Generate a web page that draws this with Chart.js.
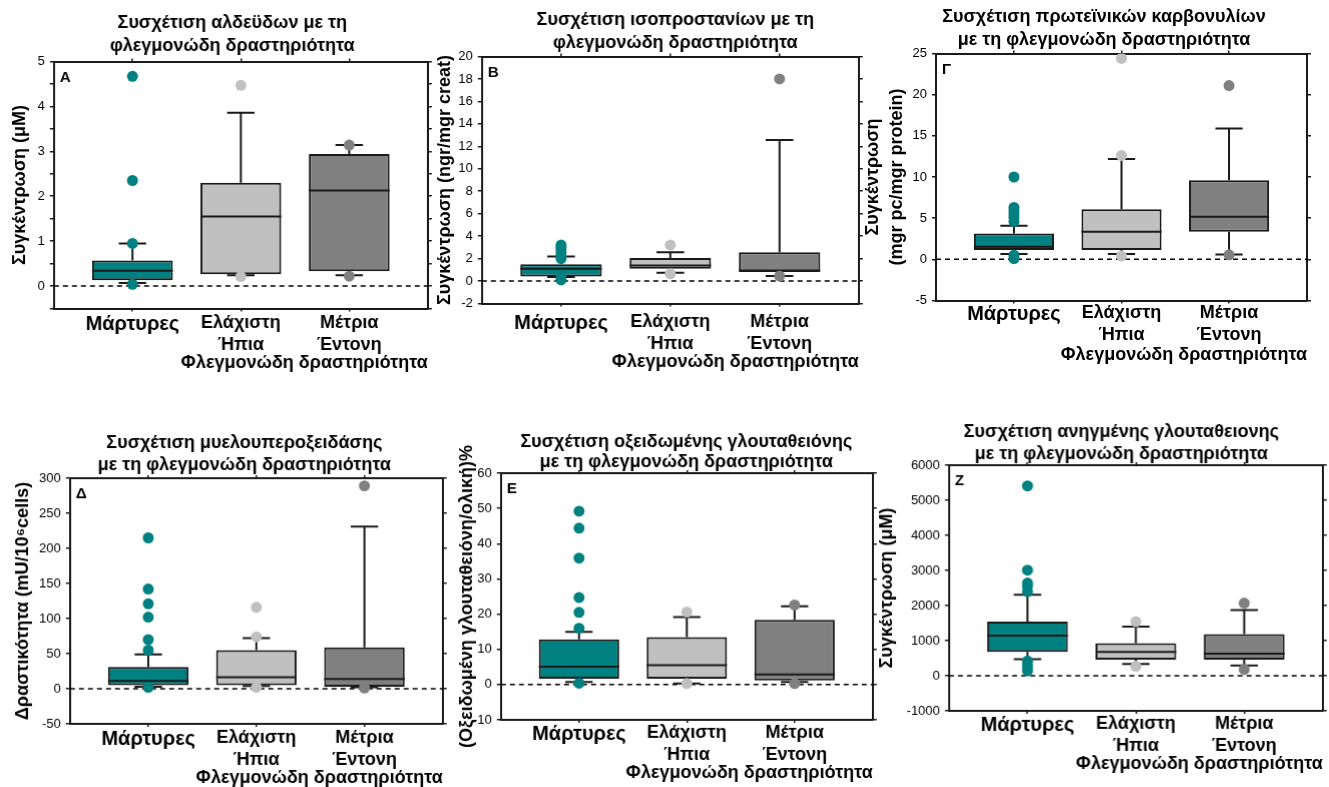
<!DOCTYPE html>
<html>
<head>
<meta charset="utf-8">
<script src="https://cdn.jsdelivr.net/npm/chart.js@4.4.1/dist/chart.umd.min.js"></script>
<style>
  html, body { margin: 0; padding: 0; background: #fff; }
  body { width: 1329px; height: 787px; position: relative; overflow: hidden; }
  .panel { position: absolute; }
</style>
</head>
<body>
<script>
// κατηγορίες (ομάδες ασθενών)
const categories = ["Μάρτυρες", "Ελάχιστη", "Μέτρια"];
const categorySubLabels = ["", "Ήπια", "Έντονη"];
const groupColors = ["#008080", "#c0c0c0", "#808080"];

// A - αλδεΰδες (μM)
const aldQ1 = [0.13, 0.26, 0.33];
const aldMedian = [0.34, 1.55, 2.13];
const aldQ3 = [0.57, 2.30, 2.94];
const aldLow = [0.07, 0.24, 0.24];
const aldHigh = [0.95, 3.86, 3.14];
const aldOutliers = [[4.67, 2.35, 0.95, 0.04], [4.47, 0.21], [3.14, 0.22]];
const aldAxis = [-0.5, 5, 0.5, 1, 0.5]; // min, max, βήμα, βήμα ετικετών, βήμα δεξιού άξονα

// B - ισοπροστάνια (ngr/mgr creat)
const isoQ1 = [0.41, 1.09, 0.80];
const isoMedian = [1.09, 1.38, 0.94];
const isoQ3 = [1.50, 2.06, 2.56];
const isoLow = [0.35, 0.73, 0.45];
const isoHigh = [2.18, 2.56, 12.56];
const isoOutliers = [[3.2, 3.0, 2.8, 2.5, 2.2, 2.0, 0.3, 0.1], [3.2, 0.65], [18.0, 0.45]];
const isoAxis = [-2, 20, 2, 2, 2];

// Γ - πρωτεϊνικά καρβονύλια (mgr pc/mgr protein)
const carbQ1 = [1.13, 1.13, 3.35];
const carbMedian = [1.53, 3.35, 5.16];
const carbQ3 = [3.15, 6.09, 9.6];
const carbLow = [0.65, 0.65, 0.6];
const carbHigh = [4.07, 12.2, 15.9];
const carbOutliers = [[10.0, 6.3, 5.9, 5.5, 5.1, 4.6, 0.5, 0.1], [24.4, 12.6, 0.4], [21.1, 0.55]];
const carbAxis = [-5, 25, 5, 5, 5];

// Δ - μυελοϋπεροξειδάση (mU/10^6 cells)
const mpoQ1 = [5, 5, 3];
const mpoMedian = [11, 16.5, 14];
const mpoQ3 = [31, 55, 59];
const mpoLow = [3, 4, 2];
const mpoHigh = [49, 72, 231];
const mpoOutliers = [[215, 142, 121, 102, 70, 55, 2], [116, 74, 2], [289, 1]];
const mpoAxis = [-50, 300, 50, 50, 50];

// Ε - οξειδωμένη γλουταθειόνη (%)
const gssgQ1 = [1.7, 1.7, 1.2];
const gssgMedian = [5.1, 5.5, 2.9];
const gssgQ3 = [12.8, 13.5, 18.4];
const gssgLow = [0.75, 0.3, 0.75];
const gssgHigh = [15.0, 19.2, 22.2];
const gssgOutliers = [[49.2, 44.4, 35.9, 24.7, 20.5, 16.0, 0.4], [20.6, 0.3], [22.6, 0.3]];
const gssgAxis = [-10, 60, 5, 10, 10];

// Ζ - ανηγμένη γλουταθειόνη (μM)
const gshQ1 = [676, 460, 460];
const gshMedian = [1146, 676, 629];
const gshQ3 = [1540, 930, 1183];
const gshLow = [470, 338, 291];
const gshHigh = [2310, 1400, 1870];
const gshOutliers = [[5410, 3010, 2640, 2560, 2400, 420, 320, 230, 140], [1540, 270], [2070, 180]];
const gshAxis = [-1000, 6000, 500, 1000, 1000];

const xAxisTitle = "Φλεγμονώδη δραστηριότητα";

const panels = [
  { letter: "Α", title: ["Συσχέτιση αλδεϋδων με τη", "φλεγμονώδη δραστηριότητα"], yTitle: "Συγκέντρωση (μΜ)",
    q1: aldQ1, median: aldMedian, q3: aldQ3, low: aldLow, high: aldHigh, outliers: aldOutliers, axis: aldAxis,
    box: { l: 54, t: 61, r: 427, b: 308, titleY: 23, titleGap: 23, titleCX: 232, yTitleX: 20, tickGap: 15, xTitleGap: 55 } },
  { letter: "Β", title: ["Συσχέτιση ισοπροστανίων με τη", "φλεγμονώδη δραστηριότητα"], yTitle: "Συγκέντρωση (ngr/mgr creat)",
    q1: isoQ1, median: isoMedian, q3: isoQ3, low: isoLow, high: isoHigh, outliers: isoOutliers, axis: isoAxis,
    box: { l: 482, t: 56, r: 858, b: 303, titleY: 20, titleGap: 23, titleCX: 675, yTitleX: 445, tickGap: 19, xTitleGap: 59 } },
  { letter: "Γ", title: ["Συσχέτιση πρωτεϊνικών καρβονυλίων", "με τη φλεγμονώδη δραστηριότητα"], yTitle: ["Συγκέντρωση", "(mgr pc/mgr protein)"],
    q1: carbQ1, median: carbMedian, q3: carbQ3, low: carbLow, high: carbHigh, outliers: carbOutliers, axis: carbAxis,
    box: { l: 936, t: 53, r: 1307, b: 300, titleY: 17, titleGap: 23, titleCX: 1104, yTitleX: 873, yTitleGap: 24, tickGap: 13, xTitleGap: 55 } },
  { letter: "Δ", title: ["Συσχέτιση μυελουπεροξειδάσης", "με τη φλεγμονώδη δραστηριότητα"], yTitle: "Δραστικότητα (mU/10⁶cells)",
    q1: mpoQ1, median: mpoMedian, q3: mpoQ3, low: mpoLow, high: mpoHigh, outliers: mpoOutliers, axis: mpoAxis,
    box: { l: 70, t: 478, r: 442, b: 723, titleY: 443, titleGap: 22, titleCX: 244, yTitleX: 23, tickGap: 14, xTitleGap: 54 } },
  { letter: "Ε", title: ["Συσχέτιση οξειδωμένης γλουταθειόνης", "με τη φλεγμονώδη δραστηριότητα"], yTitle: "(Οξειδωμένη γλουταθειόνη/ολική)%",
    q1: gssgQ1, median: gssgMedian, q3: gssgQ3, low: gssgLow, high: gssgHigh, outliers: gssgOutliers, axis: gssgAxis,
    box: { l: 501, t: 473, r: 872, b: 719, titleY: 442, titleGap: 20, titleCX: 686, yTitleX: 467, tickGap: 13, xTitleGap: 53 } },
  { letter: "Ζ", title: ["Συσχέτιση ανηγμένης γλουταθειονης", "με τη φλεγμονώδη δραστηριότητα"], yTitle: "Συγκέντρωση (μΜ)",
    q1: gshQ1, median: gshMedian, q3: gshQ3, low: gshLow, high: gshHigh, outliers: gshOutliers, axis: gshAxis,
    box: { l: 949, t: 463, r: 1322, b: 710, titleY: 432, titleGap: 22, titleCX: 1121, yTitleX: 887, tickGap: 13, xTitleGap: 53 } }
];

const FONT = "'Liberation Sans', Arial, sans-serif";
const INK = "#1a1a1a";
const TITLE_SIZE = 18;
const TICK_SIZE = 18, TICK_LH = 1.2;
const XTITLE_SIZE = 18, XTITLE_LH = 1.2;
const YTITLE_SIZE = 18;
const X_EDGE = 0.725; // κενό αριστερά/δεξιά από τα κουτιά, σε μονάδες κατηγορίας

// μουστάκια, διάμεσοι, διακεκομμένη γραμμή στο 0 και γράμμα πάνελ
function boxPlotLines(p) {
  return {
    id: "boxPlotLines",
    beforeDatasetsDraw(chart) {
      const { ctx, chartArea, scales: { x, y } } = chart;
      ctx.save();
      const y0 = y.getPixelForValue(0);
      ctx.strokeStyle = "#000";
      ctx.lineWidth = 1.5;
      ctx.setLineDash([5, 4]);
      ctx.beginPath();
      ctx.moveTo(chartArea.left, y0);
      ctx.lineTo(chartArea.right, y0);
      ctx.stroke();
      ctx.setLineDash([]);

      ctx.strokeStyle = INK;
      ctx.lineWidth = 2;
      chart.getDatasetMeta(0).data.forEach((bar, i) => {
        const cx = x.getPixelForValue(i);
        const cap = bar.width * 0.17;
        [[p.q3[i], p.high[i]], [p.q1[i], p.low[i]]].forEach(([from, to]) => {
          const y1 = y.getPixelForValue(from);
          const y2 = y.getPixelForValue(to);
          ctx.beginPath();
          ctx.moveTo(cx, y1);
          ctx.lineTo(cx, y2);
          ctx.moveTo(cx - cap, y2);
          ctx.lineTo(cx + cap, y2);
          ctx.stroke();
        });
      });
      ctx.restore();
    },
    afterDatasetDraw(chart, args) {
      if (args.index !== 0) return;
      const { ctx, scales: { y } } = chart;
      ctx.save();
      ctx.strokeStyle = INK;
      ctx.lineWidth = 2;
      args.meta.data.forEach((bar, i) => {
        const ym = y.getPixelForValue(p.median[i]);
        ctx.beginPath();
        ctx.moveTo(bar.x - bar.width / 2, ym);
        ctx.lineTo(bar.x + bar.width / 2, ym);
        ctx.stroke();
      });
      ctx.restore();
    },
    afterDraw(chart) {
      const { ctx, chartArea } = chart;
      ctx.save();
      ctx.fillStyle = "#000";
      ctx.font = "bold 15px " + FONT;
      ctx.textBaseline = "middle";
      ctx.fillText(p.letter, chartArea.left + 6, chartArea.top + 16);
      ctx.restore();
    }
  };
}

function isMultiple(v, step) {
  const k = v / step;
  return Math.abs(k - Math.round(k)) < 1e-6;
}

panels.forEach((p) => {
  const g = p.box;
  const [yMin, yMax, yStep, labelStep, rightStep] = p.axis;

  // θέση καμβά ώστε η περιοχή σχεδίασης να πέφτει στο σωστό σημείο
  const yTitleLH = g.yTitleGap || YTITLE_SIZE * 1.2;
  const yW = g.l - (g.yTitleX - yTitleLH / 2);
  const y2W = Math.max(8, yW + 2 * (g.titleCX - (g.l + g.r) / 2));
  const top = g.titleY - g.titleGap / 2 - 2;
  const padBottom = Math.max(0, g.t - (top + 2 + 2 * g.titleGap));
  const xH = g.xTitleGap + (XTITLE_SIZE * XTITLE_LH) / 2;
  const left = g.l - yW;
  const width = yW + (g.r - g.l) + y2W;
  const height = g.b + xH - top;

  const div = document.createElement("div");
  div.className = "panel";
  div.style.left = left + "px";
  div.style.top = top + "px";
  div.style.width = width + "px";
  div.style.height = height + "px";
  const canvas = document.createElement("canvas");
  div.appendChild(canvas);
  document.body.appendChild(div);

  const datasets = [{
    type: "bar",
    data: p.q1.map((v, i) => ({ x: i, y: [v, p.q3[i]] })),
    backgroundColor: groupColors,
    borderColor: INK,
    borderWidth: 2,
    borderSkipped: false,
    barPercentage: 0.745,
    categoryPercentage: 1,
    order: 2
  }];
  p.outliers.forEach((vals, gi) => {
    datasets.push({
      type: "line",
      data: vals.map(v => ({ x: gi, y: v })),
      showLine: false,
      pointRadius: 5.5,
      pointHoverRadius: 5.5,
      pointBackgroundColor: groupColors[gi],
      pointBorderWidth: 0,
      order: 1
    });
  });

  const axisGrid = { drawOnChartArea: false, color: INK, lineWidth: 1.5 };
  const axisBorder = { color: INK, width: 2 };
  const xRange = { type: "linear", min: -X_EDGE, max: categories.length - 1 + X_EDGE, offset: false };

  new Chart(canvas, {
    type: "bar",
    data: { datasets },
    options: {
      responsive: true,
      maintainAspectRatio: false,
      animation: false,
      events: [],
      layout: { padding: 0 },
      plugins: {
        legend: { display: false },
        tooltip: { enabled: false },
        title: {
          display: true,
          text: p.title,
          color: "#000",
          font: { family: FONT, size: TITLE_SIZE, weight: "bold", lineHeight: g.titleGap / TITLE_SIZE },
          padding: { top: 2, bottom: padBottom }
        }
      },
      scales: {
        x: {
          ...xRange,
          position: "bottom",
          grid: { ...axisGrid, offset: false, tickLength: 3 },
          border: axisBorder,
          ticks: {
            stepSize: 1,
            includeBounds: false,
            color: "#000",
            font: c => ({ family: FONT, size: c.index === 0 ? 20 : TICK_SIZE, weight: "bold", lineHeight: TICK_LH }),
            padding: g.tickGap - 3 - (TICK_SIZE * TICK_LH) / 2,
            maxRotation: 0,
            autoSkip: false,
            callback: v => {
              if (!Number.isInteger(v) || !categories[v]) return "";
              return categorySubLabels[v] ? [categories[v], categorySubLabels[v]] : categories[v];
            }
          },
          title: {
            display: true,
            text: xAxisTitle,
            align: "end",
            color: "#000",
            font: { family: FONT, size: XTITLE_SIZE, weight: "bold", lineHeight: XTITLE_LH },
            padding: 0
          },
          afterFit: s => { s.height = xH; }
        },
        x2: {
          ...xRange,
          position: "top",
          grid: { ...axisGrid, offset: false, tickLength: 3 },
          border: axisBorder,
          ticks: { stepSize: 1, includeBounds: false, display: false },
          afterFit: s => { s.height = 0; }
        },
        y: {
          type: "linear",
          position: "left",
          min: yMin,
          max: yMax,
          grid: { ...axisGrid, tickLength: 4 },
          border: axisBorder,
          ticks: {
            stepSize: yStep,
            color: "#000",
            padding: 5,
            font: { family: FONT, size: 13 },
            callback: v => isMultiple(v, labelStep) ? String(v) : ""
          },
          title: {
            display: true,
            text: p.yTitle,
            color: "#000",
            font: { family: FONT, size: YTITLE_SIZE, weight: "bold", lineHeight: yTitleLH / YTITLE_SIZE },
            padding: 0
          },
          afterFit: s => { s.width = yW; }
        },
        y2: {
          type: "linear",
          position: "right",
          min: yMin,
          max: yMax,
          grid: { ...axisGrid, tickLength: 4 },
          border: axisBorder,
          ticks: { stepSize: rightStep, display: false },
          afterFit: s => { s.width = y2W; }
        }
      }
    },
    plugins: [boxPlotLines(p)]
  });
});
</script>
</body>
</html>
